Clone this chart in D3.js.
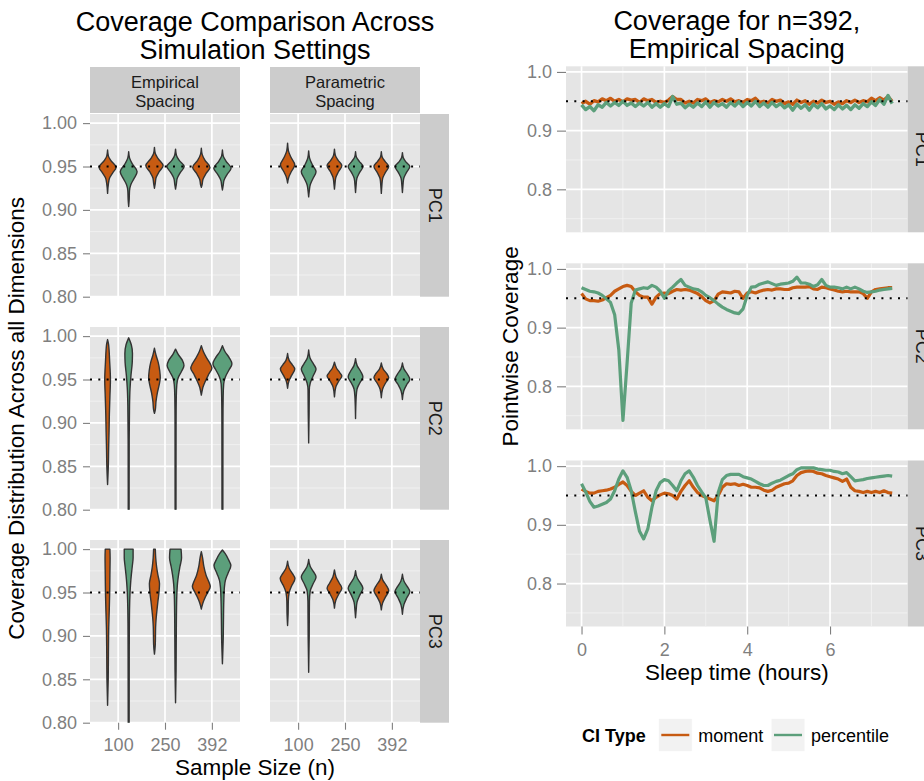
<!DOCTYPE html>
<html>
<head>
<meta charset="utf-8">
<script src="https://cdn.jsdelivr.net/npm/d3@7"></script>
<style>
  body { margin: 0; background: #fff; }
  text { font-family: "Liberation Sans", Arial, Helvetica, sans-serif; }
</style>
</head>
<body>
<svg id="chart" width="924" height="781"></svg>
<script>
// ---------- categories & ticks ----------
const sampleSizes = ["100", "250", "392"];
const ciTypes = ["moment", "percentile"];
const spacings = [["Empirical", "Spacing"], ["Parametric", "Spacing"]];
const components = ["PC1", "PC2", "PC3"];
const coverageTicks = [0.80, 0.85, 0.90, 0.95, 1.00];
const coverageMinor = [0.825, 0.875, 0.925, 0.975];
const hourTicks = [0, 2, 4, 6];
const hourMinor = [1, 3, 5, 7];
const pointwiseTicks = [0.8, 0.9, 1.0];
const pointwiseMinor = [0.75, 0.85, 0.95];
const nominal = 0.95;

// ---------- violin profiles: [coverage, relative density] ----------
const pc1Empirical = [
  { n: "100", ci: "moment",     profile: [[0.969,0],[0.962,0.08],[0.957,0.3],[0.949,0.8],[0.943,0.5],[0.937,0.2],[0.930,0.08],[0.919,0]] },
  { n: "100", ci: "percentile", profile: [[0.967,0],[0.960,0.08],[0.953,0.35],[0.944,0.8],[0.936,0.5],[0.929,0.2],[0.922,0.08],[0.912,0.05],[0.904,0]] },
  { n: "250", ci: "moment",     profile: [[0.972,0],[0.965,0.08],[0.959,0.35],[0.951,0.82],[0.944,0.45],[0.937,0.15],[0.930,0.07],[0.925,0]] },
  { n: "250", ci: "percentile", profile: [[0.970,0],[0.963,0.08],[0.957,0.35],[0.950,0.82],[0.943,0.45],[0.936,0.15],[0.929,0.07],[0.924,0]] },
  { n: "392", ci: "moment",     profile: [[0.971,0],[0.964,0.08],[0.957,0.35],[0.949,0.82],[0.942,0.45],[0.935,0.15],[0.929,0.07],[0.926,0]] },
  { n: "392", ci: "percentile", profile: [[0.969,0],[0.962,0.08],[0.956,0.35],[0.948,0.82],[0.941,0.45],[0.934,0.15],[0.928,0.07],[0.923,0]] }
];
const pc1Parametric = [
  { n: "100", ci: "moment",     profile: [[0.977,0],[0.968,0.08],[0.960,0.35],[0.952,0.68],[0.944,0.35],[0.938,0.12],[0.931,0]] },
  { n: "100", ci: "percentile", profile: [[0.968,0],[0.960,0.08],[0.952,0.35],[0.944,0.7],[0.936,0.4],[0.929,0.15],[0.922,0.06],[0.915,0]] },
  { n: "250", ci: "moment",     profile: [[0.970,0],[0.963,0.08],[0.957,0.35],[0.951,0.7],[0.944,0.38],[0.937,0.12],[0.930,0.05],[0.924,0]] },
  { n: "250", ci: "percentile", profile: [[0.967,0],[0.961,0.08],[0.956,0.35],[0.950,0.7],[0.943,0.38],[0.936,0.12],[0.928,0.05],[0.920,0]] },
  { n: "392", ci: "moment",     profile: [[0.967,0],[0.961,0.08],[0.956,0.35],[0.950,0.7],[0.943,0.38],[0.936,0.12],[0.928,0.05],[0.919,0]] },
  { n: "392", ci: "percentile", profile: [[0.966,0],[0.960,0.08],[0.955,0.35],[0.950,0.7],[0.943,0.38],[0.936,0.12],[0.928,0.05],[0.920,0]] }
];
const pc2Empirical = [
  { n: "100", ci: "moment",     profile: [[0.996,0],[0.99,0.1],[0.97,0.2],[0.95,0.27],[0.93,0.22],[0.91,0.17],[0.89,0.14],[0.87,0.1],[0.85,0.07],[0.829,0]] },
  { n: "100", ci: "percentile", profile: [[0.998,0],[0.99,0.25],[0.98,0.36],[0.97,0.34],[0.955,0.22],[0.94,0.13],[0.92,0.08],[0.88,0.05],[0.78,0.04]] },
  { n: "250", ci: "moment",     profile: [[0.986,0],[0.978,0.15],[0.970,0.35],[0.960,0.5],[0.952,0.55],[0.944,0.45],[0.935,0.28],[0.925,0.15],[0.915,0.08],[0.911,0]] },
  { n: "250", ci: "percentile", profile: [[0.985,0],[0.979,0.25],[0.972,0.65],[0.966,0.8],[0.959,0.55],[0.952,0.25],[0.944,0.12],[0.93,0.07],[0.90,0.05],[0.78,0.04]] },
  { n: "392", ci: "moment",     profile: [[0.989,0],[0.982,0.2],[0.975,0.5],[0.968,0.85],[0.963,1.0],[0.956,0.7],[0.948,0.38],[0.941,0.15],[0.936,0.06],[0.932,0]] },
  { n: "392", ci: "percentile", profile: [[0.989,0],[0.982,0.25],[0.975,0.65],[0.968,0.9],[0.961,0.62],[0.953,0.28],[0.945,0.12],[0.93,0.07],[0.90,0.05],[0.78,0.04]] }
];
const pc2Parametric = [
  { n: "100", ci: "moment",     profile: [[0.980,0],[0.972,0.15],[0.967,0.45],[0.962,0.68],[0.955,0.4],[0.948,0.12],[0.940,0]] },
  { n: "100", ci: "percentile", profile: [[0.984,0],[0.975,0.12],[0.968,0.45],[0.962,0.7],[0.954,0.42],[0.946,0.15],[0.938,0.06],[0.91,0.04],[0.877,0]] },
  { n: "250", ci: "moment",     profile: [[0.970,0],[0.963,0.2],[0.958,0.5],[0.954,0.7],[0.948,0.4],[0.941,0.12],[0.930,0]] },
  { n: "250", ci: "percentile", profile: [[0.974,0],[0.966,0.15],[0.959,0.5],[0.953,0.7],[0.946,0.4],[0.939,0.14],[0.930,0.06],[0.905,0]] },
  { n: "392", ci: "moment",     profile: [[0.969,0],[0.962,0.18],[0.957,0.5],[0.952,0.7],[0.946,0.4],[0.939,0.12],[0.929,0]] },
  { n: "392", ci: "percentile", profile: [[0.969,0],[0.962,0.15],[0.956,0.48],[0.950,0.7],[0.944,0.4],[0.937,0.13],[0.927,0]] }
];
const pc3Empirical = [
  { n: "100", ci: "moment",     profile: [[1.0,0.22],[0.99,0.24],[0.97,0.22],[0.95,0.2],[0.93,0.16],[0.91,0.11],[0.88,0.08],[0.85,0.06],[0.82,0]] },
  { n: "100", ci: "percentile", profile: [[1.0,0.42],[0.99,0.42],[0.98,0.34],[0.97,0.25],[0.96,0.18],[0.95,0.13],[0.93,0.08],[0.90,0.06],[0.85,0.05],[0.78,0.04]] },
  { n: "250", ci: "moment",     profile: [[1.0,0.08],[0.99,0.12],[0.98,0.2],[0.97,0.33],[0.96,0.48],[0.95,0.43],[0.94,0.33],[0.93,0.24],[0.92,0.16],[0.91,0.11],[0.89,0.08],[0.879,0]] },
  { n: "250", ci: "percentile", profile: [[1.0,0.52],[0.99,0.57],[0.98,0.42],[0.97,0.28],[0.96,0.18],[0.95,0.13],[0.93,0.09],[0.90,0.07],[0.86,0.05],[0.823,0]] },
  { n: "392", ci: "moment",     profile: [[0.997,0],[0.99,0.12],[0.98,0.24],[0.97,0.45],[0.962,0.72],[0.957,0.85],[0.95,0.6],[0.944,0.35],[0.938,0.15],[0.931,0]] },
  { n: "392", ci: "percentile", profile: [[0.999,0],[0.995,0.25],[0.988,0.57],[0.981,0.8],[0.972,0.52],[0.964,0.28],[0.955,0.18],[0.94,0.13],[0.92,0.1],[0.90,0.08],[0.868,0]] }
];
const pc3Parametric = [
  { n: "100", ci: "moment",     profile: [[0.986,0],[0.978,0.15],[0.972,0.45],[0.966,0.7],[0.958,0.4],[0.950,0.15],[0.940,0.07],[0.925,0.05],[0.912,0]] },
  { n: "100", ci: "percentile", profile: [[0.988,0],[0.980,0.15],[0.974,0.45],[0.968,0.7],[0.960,0.42],[0.952,0.15],[0.940,0.07],[0.90,0.05],[0.858,0]] },
  { n: "250", ci: "moment",     profile: [[0.976,0],[0.968,0.15],[0.961,0.45],[0.955,0.7],[0.948,0.4],[0.941,0.13],[0.932,0]] },
  { n: "250", ci: "percentile", profile: [[0.975,0],[0.967,0.15],[0.961,0.45],[0.955,0.7],[0.947,0.4],[0.939,0.14],[0.930,0.06],[0.921,0]] },
  { n: "392", ci: "moment",     profile: [[0.971,0],[0.964,0.15],[0.958,0.48],[0.952,0.7],[0.945,0.4],[0.938,0.12],[0.930,0]] },
  { n: "392", ci: "percentile", profile: [[0.971,0],[0.963,0.15],[0.957,0.45],[0.951,0.7],[0.944,0.42],[0.936,0.14],[0.925,0]] }
];

// ---------- pointwise coverage along sleep time (n = 392, empirical spacing) ----------
const hours = [0,0.1,0.2,0.3,0.4,0.5,0.6,0.7,0.8,0.9,1,1.1,1.2,1.3,1.4,1.5,1.6,1.7,1.8,1.9,
  2,2.1,2.2,2.3,2.4,2.5,2.6,2.7,2.8,2.9,3,3.1,3.2,3.3,3.4,3.5,3.6,3.7,3.8,3.9,
  4,4.1,4.2,4.3,4.4,4.5,4.6,4.7,4.8,4.9,5,5.1,5.2,5.3,5.4,5.5,5.6,5.7,5.8,5.9,
  6,6.1,6.2,6.3,6.4,6.5,6.6,6.7,6.8,6.9,7,7.1,7.2,7.3,7.4,7.5];
const pc1Moment = [0.946,0.950,0.945,0.951,0.949,0.954,0.951,0.955,0.950,0.953,0.949,0.954,0.952,0.953,0.948,0.954,0.951,0.953,0.948,0.950,
  0.948,0.952,0.958,0.953,0.953,0.947,0.950,0.947,0.953,0.951,0.954,0.948,0.951,0.949,0.953,0.950,0.954,0.949,0.951,0.948,
  0.953,0.951,0.955,0.948,0.950,0.947,0.953,0.950,0.952,0.946,0.949,0.945,0.952,0.948,0.951,0.945,0.950,0.947,0.952,0.948,
  0.950,0.945,0.949,0.946,0.951,0.948,0.952,0.948,0.951,0.949,0.955,0.951,0.956,0.952,0.958,0.950];
const pc1Percentile = [0.944,0.936,0.941,0.934,0.944,0.940,0.948,0.942,0.948,0.943,0.950,0.943,0.947,0.941,0.947,0.942,0.948,0.940,0.946,0.940,
  0.946,0.941,0.958,0.945,0.947,0.939,0.945,0.940,0.947,0.941,0.949,0.940,0.948,0.942,0.946,0.940,0.948,0.942,0.949,0.941,
  0.948,0.942,0.950,0.941,0.947,0.940,0.948,0.941,0.946,0.939,0.944,0.935,0.945,0.938,0.944,0.935,0.945,0.939,0.946,0.937,
  0.942,0.936,0.944,0.937,0.943,0.936,0.944,0.938,0.946,0.941,0.949,0.943,0.953,0.945,0.960,0.946];
const pc2Moment = [0.958,0.949,0.946,0.946,0.945,0.947,0.951,0.955,0.962,0.966,0.970,0.972,0.970,0.961,0.955,0.952,0.952,0.940,0.952,0.958,
  0.959,0.958,0.962,0.965,0.964,0.965,0.964,0.961,0.958,0.953,0.946,0.942,0.946,0.957,0.961,0.960,0.959,0.962,0.961,0.950,
  0.959,0.961,0.959,0.962,0.964,0.965,0.964,0.966,0.966,0.965,0.965,0.968,0.969,0.969,0.969,0.970,0.966,0.965,0.969,0.968,
  0.966,0.964,0.962,0.961,0.962,0.961,0.961,0.961,0.958,0.950,0.961,0.965,0.966,0.967,0.968,0.968];
const pc2Percentile = [0.968,0.965,0.962,0.961,0.959,0.955,0.949,0.943,0.922,0.862,0.742,0.840,0.942,0.964,0.966,0.968,0.967,0.972,0.969,0.962,
  0.950,0.963,0.969,0.976,0.982,0.972,0.969,0.966,0.965,0.961,0.955,0.951,0.946,0.940,0.935,0.931,0.928,0.925,0.924,0.932,
  0.955,0.969,0.970,0.974,0.976,0.978,0.975,0.972,0.974,0.975,0.976,0.979,0.986,0.976,0.976,0.974,0.970,0.973,0.982,0.972,
  0.969,0.969,0.968,0.966,0.969,0.966,0.969,0.966,0.962,0.960,0.961,0.962,0.964,0.965,0.966,0.967];
const pc3Moment = [0.961,0.957,0.954,0.954,0.957,0.958,0.959,0.961,0.964,0.969,0.973,0.967,0.957,0.950,0.954,0.958,0.947,0.941,0.947,0.951,
  0.954,0.953,0.950,0.944,0.957,0.967,0.975,0.964,0.955,0.950,0.947,0.944,0.941,0.950,0.964,0.970,0.969,0.970,0.967,0.969,
  0.967,0.964,0.964,0.963,0.959,0.957,0.959,0.964,0.967,0.970,0.971,0.975,0.984,0.989,0.991,0.992,0.991,0.988,0.987,0.984,
  0.982,0.980,0.978,0.974,0.978,0.964,0.958,0.957,0.955,0.957,0.955,0.957,0.955,0.958,0.955,0.954];
const pc3Percentile = [0.970,0.956,0.940,0.930,0.932,0.935,0.938,0.944,0.958,0.978,0.992,0.981,0.958,0.922,0.889,0.876,0.893,0.930,0.958,0.972,
  0.977,0.975,0.967,0.958,0.975,0.987,0.992,0.981,0.967,0.956,0.946,0.908,0.872,0.955,0.977,0.984,0.986,0.986,0.986,0.982,
  0.980,0.978,0.974,0.970,0.967,0.967,0.971,0.974,0.976,0.980,0.984,0.987,0.994,0.997,0.997,0.997,0.997,0.995,0.994,0.993,
  0.993,0.991,0.990,0.987,0.989,0.982,0.975,0.976,0.977,0.979,0.980,0.981,0.982,0.983,0.984,0.983];

// ---------- styling ----------
const colors = { moment: "#c75b12", percentile: "#5c9f7b" };
const panelFill = "#e5e5e5", stripFill = "#cccccc", minorGrid = "#f2f2f2", tickGrey = "#7f7f7f";

const svg = d3.select("#chart");
svg.append("rect").attr("width", 924).attr("height", 781).attr("fill", "#fff");
const defs = svg.append("defs");
let clipCount = 0;

function clipRect(w, h) {
  const id = "clip" + (clipCount++);
  defs.append("clipPath").attr("id", id).append("rect").attr("width", w).attr("height", h);
  return "url(#" + id + ")";
}
function styleAxis(g, size) {
  g.select(".domain").remove();
  g.selectAll(".tick line").attr("stroke", tickGrey).attr("stroke-width", 1.1);
  g.selectAll(".tick text").attr("fill", tickGrey).attr("font-size", size)
    .attr("font-family", "'Liberation Sans', Arial, Helvetica, sans-serif");
}
function dottedLine(g, y, w) {
  g.append("line").attr("x1", 0).attr("x2", w).attr("y1", y).attr("y2", y)
    .attr("stroke", "#000").attr("stroke-width", 2).attr("stroke-dasharray", "2 6.3");
}
function rightStrip(parent, x, y, h, label) {
  parent.append("rect").attr("x", x).attr("y", y).attr("width", 29).attr("height", h).attr("fill", stripFill);
  parent.append("text").attr("transform", `translate(${x + 14.5},${y + h / 2}) rotate(90)`)
    .attr("text-anchor", "middle").attr("dominant-baseline", "central")
    .attr("font-size", 18).attr("fill", "#1a1a1a").text(label);
}

// ================= left: violins by facet =================
const L = { colX: [90, 270], colW: 150, rowY: [114, 327, 540], rowH: 182.7 };
const yL = d3.scaleLinear().domain([0.8, 1.0105]).range([L.rowH, 0]);
const xN = d3.scalePoint().domain(sampleSizes).range([0, L.colW]).padding(0.6);
const dodge = d3.scaleBand().domain(ciTypes).range([-0.45 * xN.step(), 0.45 * xN.step()]);
const halfMax = dodge.bandwidth() / 2;

const violinFacets = [
  [pc1Empirical, pc1Parametric],
  [pc2Empirical, pc2Parametric],
  [pc3Empirical, pc3Parametric]
];

// titles
const leftTitle = svg.append("text").attr("text-anchor", "middle").attr("font-size", 27).attr("fill", "#000");
leftTitle.append("tspan").attr("x", 255).attr("y", 31).text("Coverage Comparison Across");
leftTitle.append("tspan").attr("x", 255).attr("y", 59).text("Simulation Settings");

// top strips
spacings.forEach((lines, c) => {
  svg.append("rect").attr("x", L.colX[c]).attr("y", 67).attr("width", L.colW).attr("height", 46).attr("fill", stripFill);
  lines.forEach((s, i) => svg.append("text").attr("text-anchor", "middle").attr("font-size", 16.5)
    .attr("fill", "#1a1a1a").attr("x", L.colX[c] + L.colW / 2).attr("y", 87.5 + i * 19).text(s));
});

components.forEach((pc, r) => {
  spacings.forEach((sp, c) => {
    const g = svg.append("g").attr("transform", `translate(${L.colX[c]},${L.rowY[r]})`);
    g.append("rect").attr("width", L.colW).attr("height", L.rowH).attr("fill", panelFill);
    g.selectAll(".minor").data(coverageMinor).join("line")
      .attr("x1", 0).attr("x2", L.colW).attr("y1", d => yL(d)).attr("y2", d => yL(d))
      .attr("stroke", minorGrid).attr("stroke-width", 0.9);
    g.selectAll(".majorY").data(coverageTicks).join("line")
      .attr("x1", 0).attr("x2", L.colW).attr("y1", d => yL(d)).attr("y2", d => yL(d))
      .attr("stroke", "#fff").attr("stroke-width", 1.7);
    g.selectAll(".majorX").data(sampleSizes).join("line")
      .attr("x1", d => xN(d)).attr("x2", d => xN(d)).attr("y1", 0).attr("y2", L.rowH)
      .attr("stroke", "#fff").attr("stroke-width", 1.7);

    const marks = g.append("g").attr("clip-path", clipRect(L.colW, L.rowH));
    violinFacets[r][c].forEach(v => {
      const cx = xN(v.n) + dodge(v.ci) + dodge.bandwidth() / 2;
      const area = d3.area().curve(d3.curveMonotoneY)
        .y(d => yL(d[0]))
        .x0(d => cx - d[1] * halfMax)
        .x1(d => cx + d[1] * halfMax);
      marks.append("path").attr("d", area(v.profile))
        .attr("fill", colors[v.ci]).attr("stroke", "#333").attr("stroke-width", 1.4)
        .attr("stroke-linejoin", "round");
    });
    dottedLine(g, yL(nominal), L.colW);

    if (c === 0) {
      const ax = g.append("g").call(d3.axisLeft(yL).tickValues(coverageTicks)
        .tickFormat(d3.format(".2f")).tickSize(7).tickPadding(6));
      styleAxis(ax, 18);
    }
    if (r === components.length - 1) {
      const ax = g.append("g").attr("transform", `translate(0,${L.rowH})`)
        .call(d3.axisBottom(xN).tickSize(7).tickPadding(9));
      styleAxis(ax, 18);
    }
  });
  rightStrip(svg, L.colX[1] + L.colW, L.rowY[r], L.rowH, pc);
});

svg.append("text").attr("transform", `translate(24,${(L.rowY[0] + L.rowY[2] + L.rowH) / 2}) rotate(-90)`)
  .attr("text-anchor", "middle").attr("font-size", 22.5).attr("fill", "#000")
  .text("Coverage Distribution Across all Dimensions");
svg.append("text").attr("x", 255).attr("y", 775).attr("text-anchor", "middle")
  .attr("font-size", 22.5).attr("fill", "#000").text("Sample Size (n)");

// ================= right: pointwise coverage lines =================
const R = { x: 566, w: 341.7, rowY: [66.3, 263.3, 460.5], rowH: 166 };
const xH = d3.scaleLinear().domain([-0.375, 7.875]).range([0, R.w]);
const yP = d3.scaleLinear().domain([0.7268, 1.0096]).range([R.rowH, 0]);
const lineSeries = [
  { moment: pc1Moment, percentile: pc1Percentile },
  { moment: pc2Moment, percentile: pc2Percentile },
  { moment: pc3Moment, percentile: pc3Percentile }
];

const rightTitle = svg.append("text").attr("text-anchor", "middle").attr("font-size", 27).attr("fill", "#000");
rightTitle.append("tspan").attr("x", R.x + R.w / 2).attr("y", 30).text("Coverage for n=392,");
rightTitle.append("tspan").attr("x", R.x + R.w / 2).attr("y", 58).text("Empirical Spacing");

components.forEach((pc, r) => {
  const g = svg.append("g").attr("transform", `translate(${R.x},${R.rowY[r]})`);
  g.append("rect").attr("width", R.w).attr("height", R.rowH).attr("fill", panelFill);
  g.selectAll(".minorY").data(pointwiseMinor).join("line")
    .attr("x1", 0).attr("x2", R.w).attr("y1", d => yP(d)).attr("y2", d => yP(d))
    .attr("stroke", minorGrid).attr("stroke-width", 0.9);
  g.selectAll(".minorX").data(hourMinor).join("line")
    .attr("x1", d => xH(d)).attr("x2", d => xH(d)).attr("y1", 0).attr("y2", R.rowH)
    .attr("stroke", minorGrid).attr("stroke-width", 0.9);
  g.selectAll(".majorY").data(pointwiseTicks).join("line")
    .attr("x1", 0).attr("x2", R.w).attr("y1", d => yP(d)).attr("y2", d => yP(d))
    .attr("stroke", "#fff").attr("stroke-width", 1.7);
  g.selectAll(".majorX").data(hourTicks).join("line")
    .attr("x1", d => xH(d)).attr("x2", d => xH(d)).attr("y1", 0).attr("y2", R.rowH)
    .attr("stroke", "#fff").attr("stroke-width", 1.7);

  const marks = g.append("g").attr("clip-path", clipRect(R.w, R.rowH));
  const line = d3.line().x((d, i) => xH(hours[i])).y(d => yP(d));
  ciTypes.forEach(ci => {
    marks.append("path").attr("d", line(lineSeries[r][ci]))
      .attr("fill", "none").attr("stroke", colors[ci])
      .attr("stroke-width", r === 0 ? 3.4 : 3.2).attr("stroke-linejoin", "round");
  });
  dottedLine(g, yP(nominal), R.w);

  const ay = g.append("g").call(d3.axisLeft(yP).tickValues(pointwiseTicks)
    .tickFormat(d3.format(".1f")).tickSize(9).tickPadding(5));
  styleAxis(ay, 18);
  if (r === components.length - 1) {
    const ax = g.append("g").attr("transform", `translate(0,${R.rowH})`)
      .call(d3.axisBottom(xH).tickValues(hourTicks).tickFormat(d3.format("d")).tickSize(8).tickPadding(9));
    styleAxis(ax, 18);
  }
  rightStrip(svg, R.x + R.w, R.rowY[r], R.rowH, pc);
});

svg.append("text").attr("transform", `translate(518,${(R.rowY[0] + R.rowY[2] + R.rowH) / 2}) rotate(-90)`)
  .attr("text-anchor", "middle").attr("font-size", 22.5).attr("fill", "#000").text("Pointwise Coverage");
svg.append("text").attr("x", R.x + R.w / 2).attr("y", 680).attr("text-anchor", "middle")
  .attr("font-size", 22.5).attr("fill", "#000").text("Sleep time (hours)");

// legend
const legend = svg.append("g");
legend.append("text").attr("x", 582).attr("y", 742).attr("font-size", 18).attr("font-weight", "bold")
  .attr("fill", "#000").text("CI Type");
const keyX = { moment: 658.3, percentile: 771 };
ciTypes.forEach(ci => {
  legend.append("rect").attr("x", keyX[ci]).attr("y", 718.3).attr("width", 34).attr("height", 33.4)
    .attr("fill", minorGrid).attr("stroke", "#fff").attr("stroke-width", 1);
  legend.append("line").attr("x1", keyX[ci] + 3).attr("x2", keyX[ci] + 31).attr("y1", 735).attr("y2", 735)
    .attr("stroke", colors[ci]).attr("stroke-width", 2.4);
  legend.append("text").attr("x", keyX[ci] + 40).attr("y", 742).attr("font-size", 18).attr("fill", "#000").text(ci);
});
</script>
</body>
</html>
